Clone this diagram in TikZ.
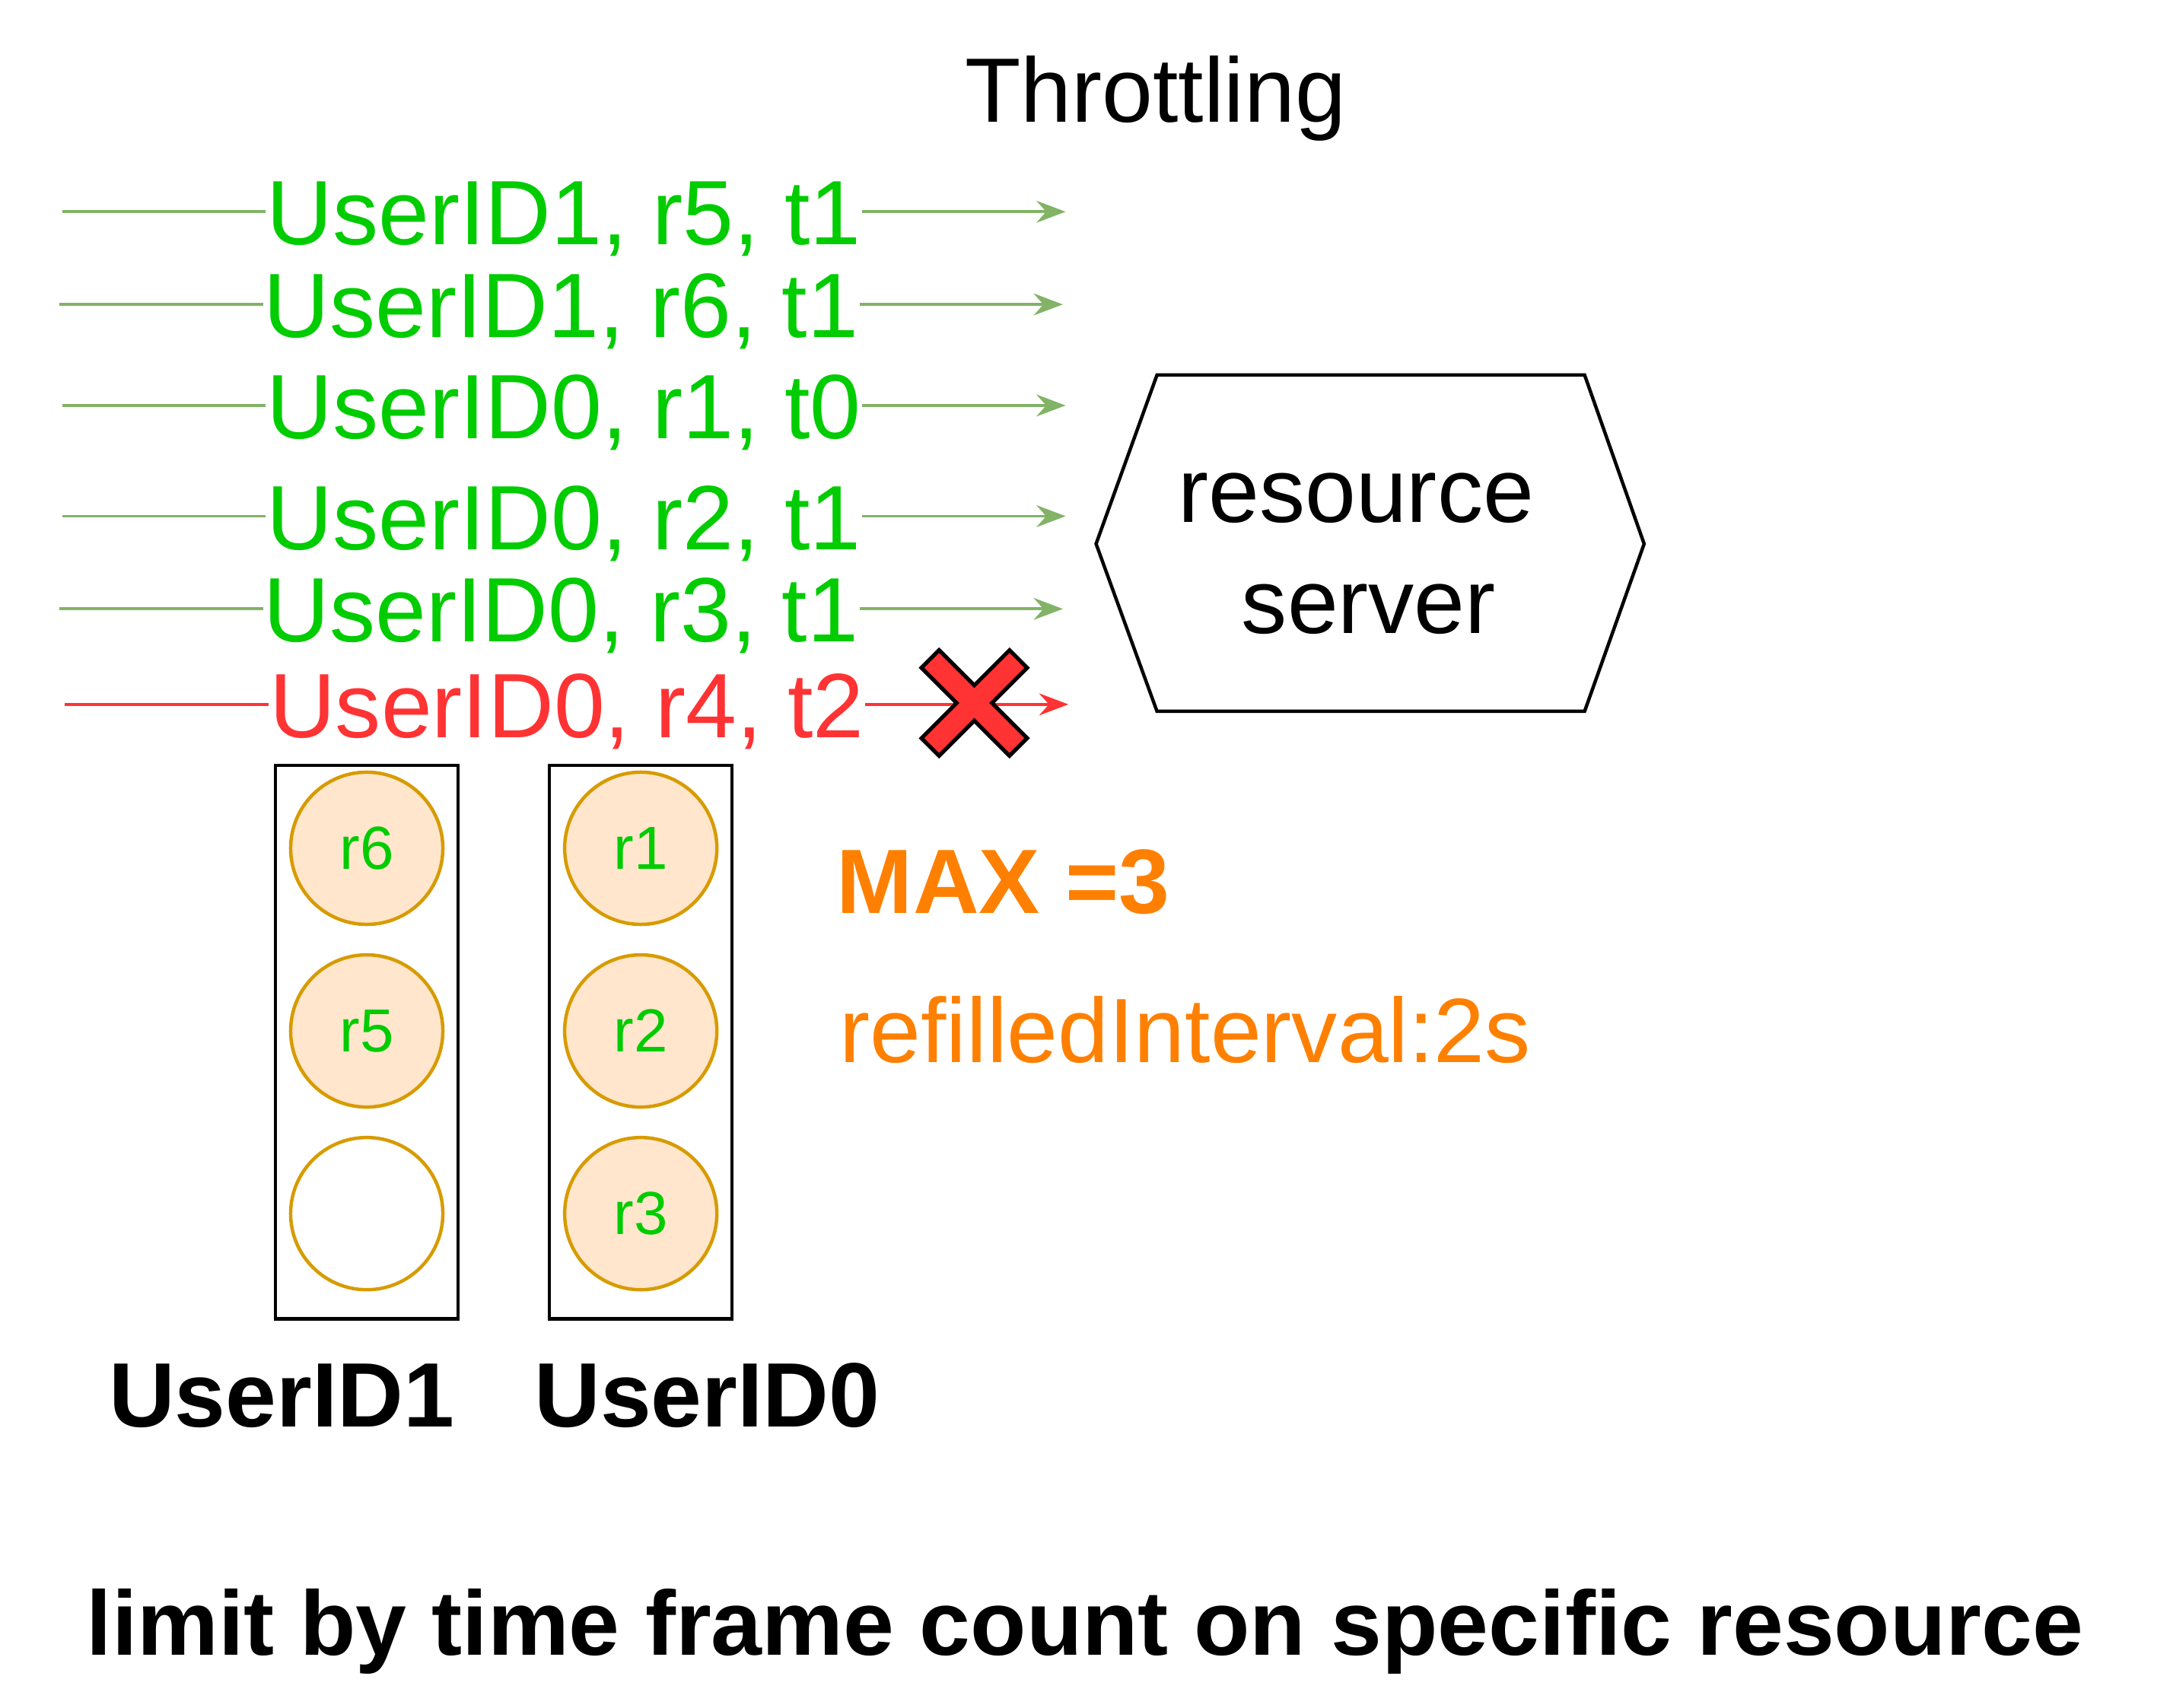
\documentclass[tikz,border=0pt]{standalone}
\usepackage{fontspec}
\setmainfont{Liberation Sans}
\usetikzlibrary{arrows.meta,positioning}
\definecolor{okgreen}{HTML}{00CC00}
\definecolor{linkgreen}{HTML}{82B366}
\definecolor{dropred}{HTML}{FF3333}
\definecolor{limitorange}{HTML}{FF8000}
\definecolor{tokenline}{HTML}{D79B00}
\definecolor{tokenfill}{HTML}{FFE6CC}
\tikzset{
  big/.style={font=\fontsize{18.8}{22.9}\selectfont},
  bigbold/.style={font=\fontsize{18.8}{22.9}\selectfont\bfseries},
  req/.style={big, text=okgreen, anchor=west, inner sep=0pt, text height=0.6cm, text depth=0.12cm},
  wire/.style={linkgreen, line width=0.6pt},
  send/.style={wire, -{Stealth[length=6pt,width=4.5pt,inset=2pt]}},
  bucket/.style={draw, line width=0.7pt, minimum width=1.32cm, minimum height=4cm, inner sep=0pt},
  token/.style={circle, draw=tokenline, fill=tokenfill, line width=0.7pt, minimum size=1.1cm, inner sep=0pt, text=okgreen, font=\fontsize{12.5}{14}\selectfont},
}
\begin{document}
\begin{tikzpicture}
  \useasboundingbox (0,0) rectangle (15.68,12.34);
  \node[big, anchor=base] (title) at (8.35,11.46) {Throttling};

  % incoming requests
  \foreach \i/\y/\xs/\xt/\xe/\txt in {
      1/10.81/0.45/1.92/7.70/{UserID1, r5, t1},
      2/10.14/0.43/1.90/7.68/{UserID1, r6, t1},
      3/9.41/0.45/1.92/7.70/{UserID0, r1, t0},
      4/8.61/0.45/1.92/7.70/{UserID0, r2, t1},
      5/7.94/0.43/1.90/7.68/{UserID0, r3, t1}}{
    \coordinate (in\i) at (\xs,\y);
    \coordinate (out\i) at (\xe,\y);
    \node[req] (req\i) at (\xt,\y) {\txt};
    \draw[wire] (in\i) -- (req\i);
    \draw[send] (req\i) -- (out\i);
  }
  % rejected request
  \coordinate (in6) at (0.47,7.25);
  \coordinate (out6) at (7.72,7.25);
  \node[req, text=dropred] (req6) at (1.94,7.25) {UserID0, r4, t2};
  \draw[wire, dropred] (in6) -- (req6);
  \draw[send, dropred] (req6) -- (out6);
  \begin{scope}[shift={(7.04,7.26)}, rotate=45]
    \draw[fill=dropred, line width=0.8pt] (-0.09,0.45) -- (0.09,0.45) -- (0.09,0.09) -- (0.45,0.09)
      -- (0.45,-0.09) -- (0.09,-0.09) -- (0.09,-0.45) -- (-0.09,-0.45) -- (-0.09,-0.09)
      -- (-0.45,-0.09) -- (-0.45,0.09) -- (-0.09,0.09) -- cycle;
  \end{scope}

  % server
  \draw[line width=0.7pt] (7.92,8.41) -- (8.36,9.63) -- (11.45,9.63) -- (11.88,8.41)
    -- (11.45,7.20) -- (8.36,7.20) -- cycle;
  \node[big, align=center] (server) at (9.89,8.34) {resource\hphantom{\ }\\server};

  % token buckets
  \node[bucket] (bucket1) at (2.65,4.81) {};
  \node[bucket] (bucket0) at (4.63,4.81) {};
  \node[token] (tok6) at (2.65,6.21) {r6};
  \node[token] (tok5) at (2.65,4.89) {r5};
  \node[token, fill=white] (tokfree) at (2.65,3.57) {};
  \node[token] (tok1) at (4.63,6.21) {r1};
  \node[token] (tok2) at (4.63,4.89) {r2};
  \node[token] (tok3) at (4.63,3.57) {r3};
  \node[bigbold, anchor=base] (user1) at (2.035,2.03) {UserID1};
  \node[bigbold, anchor=base] (user0) at (5.11,2.03) {UserID0};

  \node[bigbold, text=limitorange, anchor=base west, inner sep=0pt] (max) at (6.04,5.74) {MAX =3};
  \node[big, text=limitorange, anchor=base west, inner sep=0pt] (refill) at (6.06,4.66) {refilledInterval:2s};

  \node[bigbold, anchor=base] (caption) at (7.84,0.38) {limit by time frame count on specific resource};
\end{tikzpicture}
\end{document}
